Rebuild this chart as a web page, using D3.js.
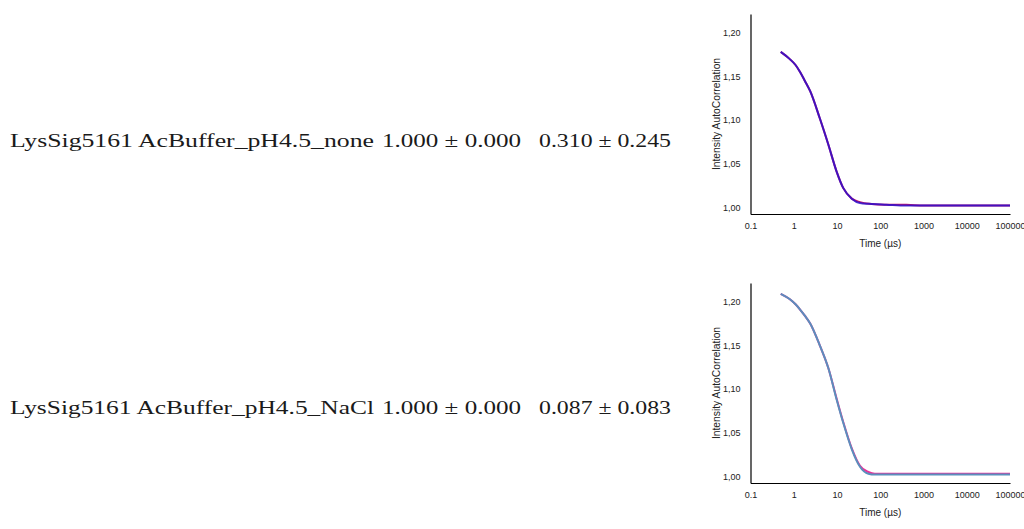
<!DOCTYPE html>
<html>
<head>
<meta charset="utf-8">
<script src="https://cdn.jsdelivr.net/npm/d3@7"></script>
<style>
  html, body { margin: 0; padding: 0; background: #fff; }
  svg { display: block; }
</style>
</head>
<body>
<div id="viz"></div>
<script>
// rows of the table: sample name and the two "mean ± sd" columns
const rowNames = ["LysSig5161 AcBuffer_pH4.5_none", "LysSig5161 AcBuffer_pH4.5_NaCl"];
const colA = ["1.000 \u00b1 0.000", "1.000 \u00b1 0.000"];
const colB = ["0.310 \u00b1 0.245", "0.087 \u00b1 0.083"];

// axis ticks
const xTicks = [0.1, 1, 10, 100, 1000, 10000, 100000];
const yTicks = [1.00, 1.05, 1.10, 1.15, 1.20];

// correlation curves (time in µs)
const timeTop = [0.5, 0.8, 1.1, 1.4, 1.8, 2.4, 4.0, 6.3, 9.8, 14, 22, 34, 55, 140, 400, 1000, 10000, 100000];
const g2TopRed  = [1.178, 1.170, 1.163, 1.155, 1.145, 1.133, 1.102, 1.072, 1.041, 1.022, 1.010, 1.006, 1.004, 1.003, 1.003, 1.002, 1.002, 1.002];
const g2TopBlue = [1.178, 1.170, 1.163, 1.155, 1.145, 1.133, 1.102, 1.072, 1.041, 1.022, 1.010, 1.005, 1.004, 1.003, 1.002, 1.002, 1.002, 1.002];

const timeBot = [0.5, 0.8, 1.1, 1.4, 1.8, 2.4, 4.0, 6.3, 9.8, 14, 22, 34, 53, 75, 110, 1000, 10000, 100000];
const g2BotPink = [1.209, 1.203, 1.197, 1.191, 1.184, 1.175, 1.150, 1.124, 1.089, 1.062, 1.032, 1.012, 1.005, 1.003, 1.003, 1.003, 1.003, 1.003];
const g2BotBlue = [1.209, 1.203, 1.197, 1.191, 1.184, 1.175, 1.150, 1.124, 1.088, 1.061, 1.031, 1.011, 1.003, 1.002, 1.002, 1.002, 1.002, 1.002];

const W = 1024, H = 529;
const plotW = 259.5, plotH = 200;
const rowsY = [141, 408];            // text row centres
const plotTop = [14, 283];            // top of each small chart
const plotLeft = 750.5;

window.onload = function main () {

const svg = d3.select("#viz").append("svg")
    .attr("width", W)
    .attr("height", H);

// table text, stretched to the widths seen in the picture
const textCols = [
  {x: 10, w: 364, vals: rowNames},
  {x: 382, w: 139, vals: colA},
  {x: 539, w: 132, vals: colB}
];
textCols.forEach(c => {
  svg.selectAll(null)
    .data(c.vals).enter()
    .append("text")
    .attr("x", c.x)
    .attr("y", (d, i) => rowsY[i] + 6)
    .attr("textLength", c.w)
    .attr("lengthAdjust", "spacingAndGlyphs")
    .style("font-family", "'Liberation Serif', 'DejaVu Serif', serif")
    .style("font-size", "19px")
    .style("fill", "#1a1a1a")
    .text(d => d);
});

const x = d3.scaleLog().domain([0.1, 100000]).range([0, plotW]);
const y = d3.scaleLinear().domain([0.9924, 1.2214]).range([plotH, 0]);

const line = d3.line()
    .x(d => x(d[0]))
    .y(d => y(d[1]))
    .curve(d3.curveMonotoneX);

const charts = [
  {series: [
    {t: timeTop, g: g2TopRed, color: "#c8186a", op: 1},
    {t: timeTop, g: g2TopBlue, color: "#2a10cc", op: 0.85}
  ]},
  {series: [
    {t: timeBot, g: g2BotPink, color: "#e8339a", op: 1},
    {t: timeBot, g: g2BotBlue, color: "#5b8fbd", op: 1}
  ]}
];

const sans = "'Liberation Sans', Arial, sans-serif";

charts.forEach((c, ci) => {
  const g = svg.append("g")
      .attr("transform", "translate(" + plotLeft + "," + plotTop[ci] + ")");

  const fmt = d3.format(".2f");
  const yAxis = g.append("g")
      .call(d3.axisLeft(y).tickValues(yTicks).tickSize(0).tickPadding(10)
        .tickFormat(d => fmt(d).replace(".", ",")));
  const xAxis = g.append("g")
      .attr("transform", "translate(0," + plotH + ")")
      .call(d3.axisBottom(x).tickValues(xTicks).tickSize(0).tickPadding(9)
        .tickFormat(d => String(d)));

  [xAxis, yAxis].forEach(a => {
    a.select(".domain").attr("stroke", "#000").attr("stroke-width", 1.2);
    a.selectAll("text")
      .style("font-family", sans)
      .style("font-size", "9px")
      .attr("fill", "#222");
  });

  c.series.forEach(s => {
    g.append("path")
      .datum(s.t.map((t, i) => [t, s.g[i]]))
      .attr("fill", "none")
      .attr("stroke", s.color)
      .attr("stroke-width", 2)
      .attr("stroke-opacity", s.op)
      .attr("d", line);
  });

  g.append("text")
    .attr("x", plotW / 2)
    .attr("y", plotH + 33)
    .attr("text-anchor", "middle")
    .style("font-family", sans)
    .style("font-size", "10px")
    .attr("fill", "#222")
    .text("Time (\u00b5s)");

  g.append("text")
    .attr("transform", "translate(-31," + (plotH / 2) + ") rotate(-90)")
    .attr("text-anchor", "middle")
    .style("font-family", sans)
    .style("font-size", "10.3px")
    .attr("fill", "#222")
    .text("Intensity AutoCorrelation");
});

};
</script>
</body>
</html>
